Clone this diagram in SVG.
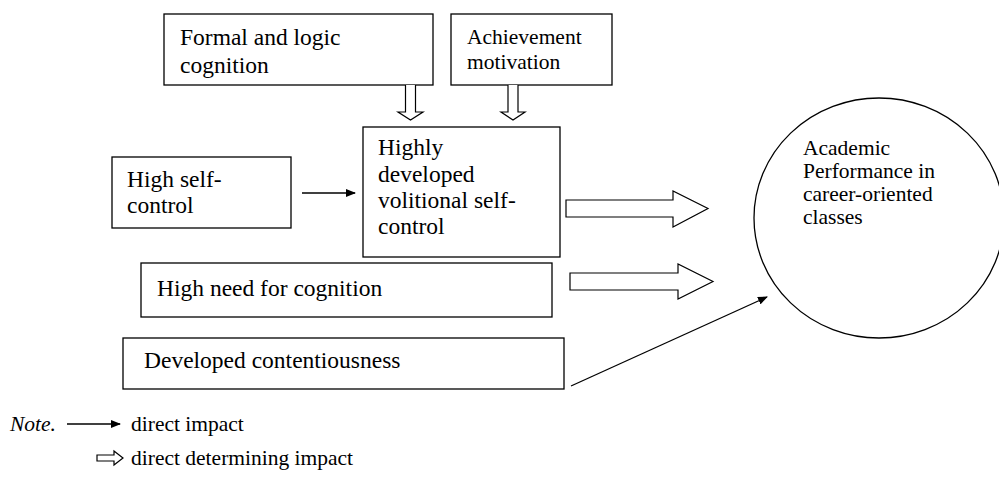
<svg xmlns="http://www.w3.org/2000/svg" width="999" height="477" viewBox="0 0 999 477">
<defs>
<marker id="ah" markerWidth="10" markerHeight="8" refX="9" refY="4" orient="auto" markerUnits="userSpaceOnUse">
<path d="M0,0 L10,4 L0,8 Z" fill="#000"/>
</marker>
<style>
.box{fill:#fff;stroke:#000;stroke-width:1.3}
.t{font-size:23.5px;fill:#000}
.ts{font-size:21.5px;fill:#000}
.ln{stroke:#000;stroke-width:1.3;fill:none}
.ha{fill:#fff;stroke:#000;stroke-width:1.2;stroke-linejoin:miter}
</style>
</defs>
<rect width="999" height="477" fill="#fff"/>
<g font-family="'Liberation Serif', 'Times New Roman', Times, serif">

<g id="node-formal">
<rect class="box" x="164" y="14" width="269" height="71"/>
<text class="t" x="180" y="45">Formal and logic</text>
<text class="t" x="180" y="73">cognition</text>
</g>

<g id="node-achievement">
<rect class="box" x="451" y="14" width="161" height="71"/>
<text class="ts" x="467" y="44">Achievement</text>
<text class="ts" x="467" y="69">motivation</text>
</g>

<g id="node-volitional">
<rect class="box" x="363" y="127" width="197" height="130"/>
<text class="t" x="378" y="155">Highly</text>
<text class="t" x="378" y="182">developed</text>
<text class="t" x="378" y="208">volitional self-</text>
<text class="t" x="378" y="234">control</text>
</g>

<g id="node-selfcontrol">
<rect class="box" x="112" y="157" width="179" height="71"/>
<text class="t" x="127" y="187">High self-</text>
<text class="t" x="127" y="213">control</text>
</g>

<g id="node-needcognition">
<rect class="box" x="141" y="263" width="411" height="54"/>
<text class="t" x="157" y="296">High need for cognition</text>
</g>

<g id="node-contentiousness">
<rect class="box" x="123" y="338" width="441" height="51"/>
<text class="t" x="144" y="368">Developed contentiousness</text>
</g>

<g id="node-performance">
<ellipse class="box" cx="879" cy="218" rx="125" ry="120"/>
<text class="ts" x="803" y="155">Academic</text>
<text class="ts" x="803" y="178">Performance in</text>
<text class="ts" x="803" y="201">career-oriented</text>
<text class="ts" x="803" y="224">classes</text>
</g>

<g id="connectors">
<path class="ha" d="M405.5,85 V112 H398 L410.5,120 L423,112 H415.5 V85"/>
<path class="ha" d="M508,85 V112 H501 L513,120 L525,112 H518 V85"/>
<line class="ln" x1="302" y1="193" x2="355" y2="193" marker-end="url(#ah)"/>
<path class="ha" d="M566,200 H673 V191 L708,208.5 L673,227 V217 H566 Z"/>
<path class="ha" d="M570,273 H678 V264 L713,281.5 L678,299 V290 H570 Z"/>
<line class="ln" x1="571" y1="386" x2="767" y2="297" marker-end="url(#ah)"/>
</g>

<g id="legend">
<text class="ts" x="10" y="431" font-style="italic">Note.</text>
<line class="ln" x1="67" y1="424" x2="120" y2="424" marker-end="url(#ah)"/>
<text class="ts" x="131" y="431">direct impact</text>
<path class="ha" d="M97,455 H114 V451 L123,458 L114,465 V461 H97 Z"/>
<text class="ts" x="131" y="465">direct determining impact</text>
</g>
</g>
</svg>
